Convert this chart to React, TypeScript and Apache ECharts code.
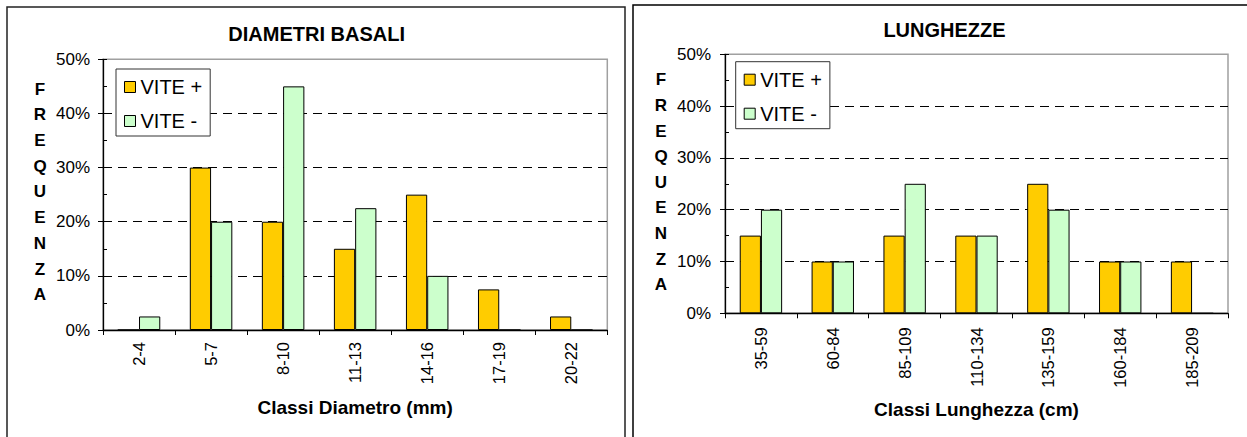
import React, { useEffect, useRef } from "react";
import * as echarts from "echarts";

const diamCategories = ["2-4", "5-7", "8-10", "11-13", "14-16", "17-19", "20-22"];
const diamVitePlus = [0, 30, 20, 15, 25, 7.5, 2.5];
const diamViteMinus = [2.5, 20, 45, 22.5, 10, 0, 0];

const lungCategories = ["35-59", "60-84", "85-109", "110-134", "135-159", "160-184", "185-209"];
const lungVitePlus = [15, 10, 15, 15, 25, 10, 10];
const lungViteMinus = [20, 10, 25, 15, 20, 10, 0];

const seriesNames = ["VITE +", "VITE -"];
const titles = ["DIAMETRI BASALI", "LUNGHEZZE"];
const xAxisNames = ["Classi Diametro (mm)", "Classi Lunghezza (cm)"];
const yLabelText = "F\nR\nE\nQ\nU\nE\nN\nZ\nA";
const yMin = 0;
const yMax = 50;
const yMajor = 10;
const yMinor = 5;

const FONT = "'Liberation Sans', Arial, sans-serif";
const COLOR_PLUS = "#FFCC00";
const COLOR_MINUS = "#CCFFCC";

export default function App() {
  const ref = useRef<HTMLDivElement>(null);

  useEffect(() => {
    if (!ref.current) return;
    const chart = echarts.init(ref.current, undefined, { renderer: "svg" });

    const grids = [
      { left: 103, top: 59.3, width: 504.3, height: 270.7, show: true, borderColor: "#a0a0a0", borderWidth: 1.5 },
      { left: 725, top: 54.3, width: 503, height: 259, show: true, borderColor: "#a0a0a0", borderWidth: 1.5 },
    ];

    const makeX = (gi: number, cats: string[], nameGap: number, labelMargin: number) => ({
      type: "category",
      gridIndex: gi,
      data: cats,
      name: xAxisNames[gi],
      nameLocation: "middle",
      nameGap,
      nameTextStyle: { fontFamily: FONT, fontSize: 19, fontWeight: "bold", color: "#000" },
      axisLine: { lineStyle: { color: "#000", width: 1.3 } },
      axisTick: { show: true, length: 5, lineStyle: { color: "#000", width: 1 } },
      axisLabel: { rotate: 90, margin: labelMargin, fontFamily: FONT, fontSize: 16.5, color: "#000", interval: 0 },
      splitLine: { show: false },
    });

    const makeYMain = (gi: number, labelMargin: number) => ({
      type: "value",
      gridIndex: gi,
      position: "left",
      min: yMin,
      max: yMax,
      interval: yMajor,
      axisLine: { show: true, lineStyle: { color: "#000", width: 1.3 } },
      axisTick: { show: true, length: 5, lineStyle: { color: "#000", width: 1 } },
      axisLabel: { margin: labelMargin, formatter: "{value}%", fontFamily: FONT, fontSize: 17, color: "#000" },
      splitLine: {
        show: true,
        showMinLine: false,
        showMaxLine: false,
        lineStyle: { color: "#000", width: 1, type: [9, 6] },
      },
    });

    const makeYMinor = (gi: number) => ({
      type: "value",
      gridIndex: gi,
      position: "left",
      offset: 0,
      min: yMin,
      max: yMax,
      interval: yMinor,
      axisLine: { show: false },
      axisTick: { show: true, inside: true, length: 4, lineStyle: { color: "#000", width: 1 } },
      axisLabel: { show: false },
      splitLine: { show: false },
    });

    const barBase = {
      type: "bar",
      barGap: "0%",
      barCategoryGap: "41%",
      itemStyle: { borderColor: "#000", borderWidth: 1 },
    };

    const legendBase = {
      orient: "vertical",
      data: seriesNames,
      icon: "rect",
      itemWidth: 11,
      itemHeight: 11,
      itemGap: 14,
      padding: [8, 8, 5, 8],
      borderColor: "#333",
      borderWidth: 1,
      backgroundColor: "#fff",
      borderRadius: 0,
      textStyle: { fontFamily: FONT, fontSize: 20, color: "#000" },
      itemStyle: { borderColor: "#000", borderWidth: 1 },
    };

    const option = {
      animation: false,
      backgroundColor: "#fff",
      grid: grids,
      xAxis: [makeX(0, diamCategories, 67.5, 12), makeX(1, lungCategories, 87, 14)],
      yAxis: [makeYMain(0, 13), makeYMain(1, 14), makeYMinor(0), makeYMinor(1)],
      legend: [
        { ...legendBase, left: 116, top: 69 },
        { ...legendBase, left: 735.7, top: 61.7 },
      ],
      series: [
        { ...barBase, name: seriesNames[0], xAxisIndex: 0, yAxisIndex: 0, data: diamVitePlus, itemStyle: { ...barBase.itemStyle, color: COLOR_PLUS } },
        { ...barBase, name: seriesNames[1], xAxisIndex: 0, yAxisIndex: 0, data: diamViteMinus, itemStyle: { ...barBase.itemStyle, color: COLOR_MINUS } },
        { ...barBase, name: seriesNames[0], xAxisIndex: 1, yAxisIndex: 1, data: lungVitePlus, itemStyle: { ...barBase.itemStyle, color: COLOR_PLUS } },
        { ...barBase, name: seriesNames[1], xAxisIndex: 1, yAxisIndex: 1, data: lungViteMinus, itemStyle: { ...barBase.itemStyle, color: COLOR_MINUS } },
      ],
      graphic: [
        {
          type: "rect",
          z: -10,
          silent: true,
          shape: { x: 7, y: 7, width: 618, height: 460 },
          style: { fill: "none", stroke: "#222", lineWidth: 1.5 },
        },
        {
          type: "rect",
          z: -10,
          silent: true,
          shape: { x: 633, y: 5, width: 640, height: 460 },
          style: { fill: "none", stroke: "#000", lineWidth: 1.5 },
        },
        {
          type: "text",
          x: 316.7,
          y: 33.5,
          style: { text: titles[0], font: `bold 20px ${FONT}`, fill: "#000", align: "center", verticalAlign: "middle" },
        },
        {
          type: "text",
          x: 944.5,
          y: 29.5,
          style: { text: titles[1], font: `bold 20px ${FONT}`, fill: "#000", align: "center", verticalAlign: "middle" },
        },
        {
          type: "text",
          x: 40,
          y: 76.3,
          style: { text: yLabelText, font: `bold 17px ${FONT}`, lineHeight: 25.7, fill: "#000", align: "center", verticalAlign: "top" },
        },
        {
          type: "text",
          x: 661,
          y: 67.2,
          style: { text: yLabelText, font: `bold 17px ${FONT}`, lineHeight: 25.6, fill: "#000", align: "center", verticalAlign: "top" },
        },
      ],
    };

    chart.setOption(option as any);
    return () => chart.dispose();
  }, []);

  return (
    <div
      ref={ref}
      style={{ position: "absolute", left: 0, top: 0, width: 1247, height: 437, background: "#fff" }}
    />
  );
}
